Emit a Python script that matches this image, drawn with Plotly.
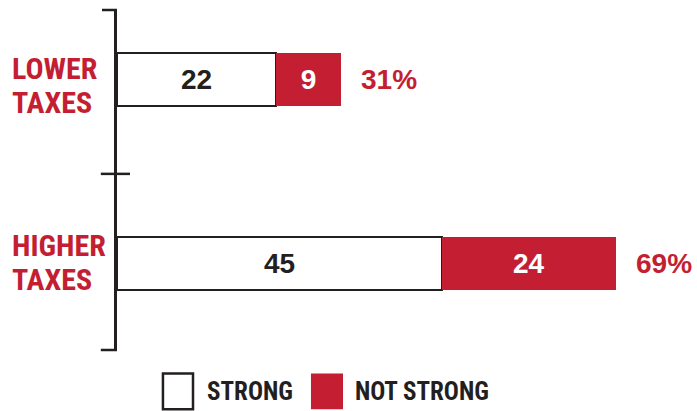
import plotly.graph_objects as go

categories = ["LOWER TAXES", "HIGHER TAXES"]
category_labels = ["LOWER<br>TAXES", "HIGHER<br>TAXES"]
strong = [22, 45]
not_strong = [9, 24]
series_names = ["STRONG", "NOT STRONG"]

RED = "#c41e32"
INK = "#231f20"
NARROW = "Liberation Sans Narrow, Roboto Condensed, DejaVu Sans Condensed, Arial Narrow, sans-serif"
BOLD = "Liberation Sans, Arial, Helvetica, sans-serif"

fig = go.Figure()
fig.add_trace(go.Bar(
    y=categories, x=strong, orientation="h", name=series_names[0],
    marker=dict(color="white", line=dict(color=INK, width=2.5)),
    width=0.288, text=[str(v) for v in strong], textposition="inside",
    insidetextanchor="middle", textangle=0, constraintext="none",
    textfont=dict(color=INK, size=28, family=BOLD, weight="bold"),
    showlegend=False,
))
fig.add_trace(go.Bar(
    y=categories, x=not_strong, orientation="h", name=series_names[1],
    marker=dict(color=RED, line=dict(color=RED, width=0)),
    width=0.288, text=[str(v) for v in not_strong], textposition="inside",
    insidetextanchor="middle", textangle=0, constraintext="none",
    textfont=dict(color="white", size=28, family=BOLD, weight="bold"),
    showlegend=False,
))

annotations = []
line_shifts = [(11, -23), (18, -16)]
for cat, lab, s, n, shifts in zip(categories, category_labels, strong, not_strong, line_shifts):
    annotations.append(dict(
        x=s + n, y=cat, xref="x", yref="y", text=f"{s + n}%", showarrow=False,
        xanchor="left", xshift=18,
        font=dict(color=RED, size=28, family=BOLD, weight="bold"),
    ))
    for line, sh in zip(lab.split("<br>"), shifts):
        annotations.append(dict(
            x=-0.1851, y=cat, xref="paper", yref="y", text=line, showarrow=False,
            xanchor="left", yanchor="middle", align="left", yshift=sh,
            font=dict(color=RED, size=30, family=NARROW, weight="bold"),
        ))

# legend (manual)
annotations.append(dict(x=0.152, y=-0.1206, xref="paper", yref="paper", text=series_names[0],
                        showarrow=False, xanchor="left", yanchor="middle",
                        font=dict(color=INK, size=25, family=NARROW, weight="bold")))
annotations.append(dict(x=0.408, y=-0.1206, xref="paper", yref="paper", text=series_names[1],
                        showarrow=False, xanchor="left", yanchor="middle",
                        font=dict(color=INK, size=25, family=NARROW, weight="bold")))

shapes = [
    # axis ticks
    dict(type="line", xref="paper", yref="paper", x0=-0.026, x1=0, y0=1, y1=1,
         line=dict(color=INK, width=2.5)),
    dict(type="line", xref="paper", yref="paper", x0=-0.028, x1=0.0225, y0=0.518, y1=0.518,
         line=dict(color=INK, width=2.5)),
    dict(type="line", xref="paper", yref="paper", x0=-0.028, x1=0, y0=0, y1=0,
         line=dict(color=INK, width=2.5)),
    # legend boxes
    dict(type="rect", xref="paper", yref="paper", x0=0.0795, x1=0.1315, y0=-0.069, y1=-0.174,
         fillcolor="white", line=dict(color=INK, width=2.5)),
    dict(type="rect", xref="paper", yref="paper", x0=0.3356, x1=0.391, y0=-0.069, y1=-0.174,
         fillcolor=RED, line=dict(color=RED, width=0)),
]

fig.update_layout(
    barmode="stack",
    width=697, height=411,
    margin=dict(l=117, r=2, t=10, b=61),
    paper_bgcolor="white", plot_bgcolor="white",
    xaxis=dict(range=[0, 80], visible=False, fixedrange=True),
    yaxis=dict(type="category", categoryarray=categories, range=[1.47, -0.378],
               showticklabels=False, ticks="", showgrid=False, zeroline=False,
               showline=True, linecolor=INK, linewidth=2.5, fixedrange=True),
    annotations=annotations,
    shapes=shapes,
    showlegend=False,
)

fig.write_html(
    "out.html",
    config={"displayModeBar": False},
    post_script="document.body.style.margin='0';document.body.style.padding='0';"
                "document.documentElement.style.overflow='hidden';",
)
